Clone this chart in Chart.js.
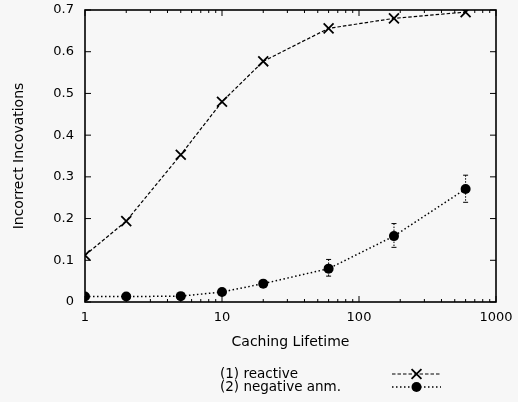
<!DOCTYPE html>
<html>
<head>
<meta charset="utf-8">
<script src="https://cdn.jsdelivr.net/npm/chart.js@4.4.1/dist/chart.umd.min.js"></script>
<style>
  html, body { margin: 0; padding: 0; background: #f7f7f7; }
  #wrap { width: 518px; height: 402px; position: relative; }
</style>
</head>
<body>
<div id="wrap"><canvas id="c" width="518" height="402"></canvas></div>
<script>
// ---- data ----
const lifetimes = [1, 2, 5, 10, 20, 60, 180, 600];
const reactiveValues = [0.112, 0.194, 0.353, 0.480, 0.577, 0.656, 0.680, 0.695];
const negativeValues = [0.013, 0.013, 0.014, 0.024, 0.044, 0.080, 0.158, 0.271];
const negativeErrLow  = [null, null, null, null, null, 0.062, 0.131, 0.239];
const negativeErrHigh = [null, null, null, null, null, 0.102, 0.188, 0.304];
const seriesLabels = ['(1) reactive', '(2) negative anm.'];
const xTickValues = [1, 10, 100, 1000];
const yTickValues = [0, 0.1, 0.2, 0.3, 0.4, 0.5, 0.6, 0.7];
const xTitle = 'Caching Lifetime';
const yTitle = 'Incorrect Incovations';

const FONT = 'DejaVu Sans';
const INK = '#000';

const toPoints = (vals) => lifetimes.map((x, i) => ({ x: x, y: vals[i] }));

const bgPlugin = {
  id: 'bg',
  beforeDraw(chart) {
    const ctx = chart.ctx;
    ctx.save();
    ctx.fillStyle = '#f7f7f7';
    ctx.fillRect(0, 0, chart.width, chart.height);
    ctx.restore();
  }
};

const framePlugin = {
  id: 'frame',
  afterDatasetsDraw(chart) {
    const { ctx, chartArea: a, scales } = chart;
    const xs = scales.x, ys = scales.y;
    ctx.save();
    ctx.strokeStyle = INK;
    ctx.lineWidth = 1.6;
    ctx.strokeRect(a.left, a.top, a.right - a.left, a.bottom - a.top);
    ctx.lineWidth = 1;
    ctx.beginPath();
    // y ticks, inward on both sides
    yTickValues.forEach(v => {
      const y = ys.getPixelForValue(v);
      ctx.moveTo(a.left, y); ctx.lineTo(a.left + 6, y);
      ctx.moveTo(a.right, y); ctx.lineTo(a.right - 6, y);
    });
    // x log ticks, major and minor, inward on bottom and top
    for (let d = 0; d < xTickValues.length; d++) {
      const base = xTickValues[d];
      for (let m = 1; m <= 9; m++) {
        const v = base * m;
        if (v > xs.max || (m > 1 && d === xTickValues.length - 1)) continue;
        const x = xs.getPixelForValue(v);
        const len = m === 1 ? 6 : 3;
        ctx.moveTo(x, a.bottom); ctx.lineTo(x, a.bottom - len);
        ctx.moveTo(x, a.top); ctx.lineTo(x, a.top + len);
      }
    }
    ctx.stroke();

    // error bars for series 2
    ctx.lineWidth = 1;
    ctx.setLineDash([1.5, 1.5]);
    ctx.beginPath();
    lifetimes.forEach((lt, i) => {
      if (negativeErrLow[i] == null) return;
      const x = xs.getPixelForValue(lt);
      const yl = ys.getPixelForValue(negativeErrLow[i]);
      const yh = ys.getPixelForValue(negativeErrHigh[i]);
      ctx.moveTo(x, yh); ctx.lineTo(x, yl);
    });
    ctx.stroke();
    ctx.setLineDash([]);
    ctx.beginPath();
    lifetimes.forEach((lt, i) => {
      if (negativeErrLow[i] == null) return;
      const x = xs.getPixelForValue(lt);
      const yl = ys.getPixelForValue(negativeErrLow[i]);
      const yh = ys.getPixelForValue(negativeErrHigh[i]);
      ctx.moveTo(x - 2.5, yh); ctx.lineTo(x + 2.5, yh);
      ctx.moveTo(x - 2.5, yl); ctx.lineTo(x + 2.5, yl);
    });
    ctx.stroke();
    ctx.restore();
  }
};

const legendPlugin = {
  id: 'customLegend',
  afterDraw(chart) {
    const ctx = chart.ctx;
    const textX = 220, sampleL = 392, sampleR = 441;
    const rows = [374, 387];
    ctx.save();
    chart.data.datasets.forEach((ds, i) => {
      const y = rows[i];
      ctx.fillStyle = INK;
      ctx.font = '13.5px "' + FONT + '"';
      ctx.textAlign = 'left';
      ctx.textBaseline = 'middle';
      ctx.fillText(ds.label, textX, y);
      ctx.strokeStyle = INK;
      ctx.lineWidth = ds.borderWidth;
      ctx.setLineDash(ds.borderDash);
      ctx.beginPath();
      ctx.moveTo(sampleL, y); ctx.lineTo(sampleR, y);
      ctx.stroke();
      ctx.setLineDash([]);
      const cx = (sampleL + sampleR) / 2;
      if (ds.pointStyle === 'crossRot') {
        const r = ds.pointRadius * 0.707;
        ctx.lineWidth = ds.pointBorderWidth;
        ctx.beginPath();
        ctx.moveTo(cx - r, y - r); ctx.lineTo(cx + r, y + r);
        ctx.moveTo(cx - r, y + r); ctx.lineTo(cx + r, y - r);
        ctx.stroke();
      } else {
        ctx.fillStyle = INK;
        ctx.beginPath();
        ctx.arc(cx, y, ds.pointRadius, 0, Math.PI * 2);
        ctx.fill();
      }
    });
    ctx.restore();
  }
};

new Chart(document.getElementById('c'), {
  type: 'line',
  data: {
    datasets: [
      {
        label: seriesLabels[0],
        data: toPoints(reactiveValues),
        borderColor: INK,
        borderWidth: 1.2,
        borderDash: [3.5, 2],
        pointStyle: 'crossRot',
        pointRadius: 7,
        pointBorderWidth: 1.8,
        pointBorderColor: INK,
        pointBackgroundColor: INK,
        fill: false,
        tension: 0
      },
      {
        label: seriesLabels[1],
        data: toPoints(negativeValues),
        borderColor: INK,
        borderWidth: 1.5,
        borderDash: [1.5, 2.5],
        pointStyle: 'circle',
        pointRadius: 5,
        pointBorderWidth: 0,
        pointBorderColor: INK,
        pointBackgroundColor: INK,
        fill: false,
        tension: 0
      }
    ]
  },
  options: {
    responsive: false,
    animation: false,
    devicePixelRatio: 1,
    layout: { padding: { left: 0, right: 22, top: 10, bottom: 48 } },
    plugins: { legend: { display: false }, tooltip: { enabled: false } },
    scales: {
      x: {
        type: 'logarithmic',
        min: 1,
        max: 1000,
        afterBuildTicks: (s) => { s.ticks = xTickValues.map(v => ({ value: v })); },
        afterFit: (s) => { s.height = 52; s.paddingLeft = 0; s.paddingRight = 0; },
        grid: { display: false, drawTicks: false },
        border: { display: false },
        ticks: {
          autoSkip: false,
          maxRotation: 0,
          padding: 8,
          color: INK,
          font: { family: FONT, size: 13 },
          callback: (v) => String(v)
        },
        title: {
          display: true,
          text: xTitle,
          color: INK,
          font: { family: FONT, size: 14 },
          padding: { top: 0, bottom: 3 }
        }
      },
      y: {
        min: 0,
        max: 0.7,
        afterBuildTicks: (s) => { s.ticks = yTickValues.map(v => ({ value: v })); },
        afterFit: (s) => { s.width = 85; s.paddingTop = 0; s.paddingBottom = 0; },
        grid: { display: false, drawTicks: false },
        border: { display: false },
        ticks: {
          autoSkip: false,
          padding: 11,
          color: INK,
          font: { family: FONT, size: 13 },
          callback: (v) => (v === 0 ? '0' : Number(v).toFixed(1))
        },
        title: {
          display: true,
          text: yTitle,
          color: INK,
          font: { family: FONT, size: 14 },
          padding: { top: 10.5, bottom: 0 }
        }
      }
    }
  },
  plugins: [bgPlugin, framePlugin, legendPlugin]
});
</script>
</body>
</html>
